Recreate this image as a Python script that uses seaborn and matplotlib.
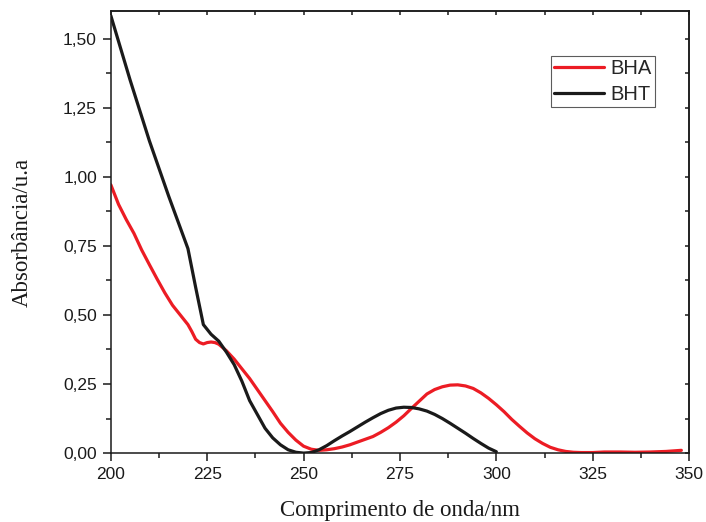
import matplotlib
matplotlib.use("Agg")
import matplotlib.pyplot as plt
import matplotlib.ticker as mticker
import numpy as np
import pandas as pd
import seaborn as sns

# UV absorption spectra of the two antioxidants
bht_nm = [200, 205, 210, 215, 220, 222, 224, 226, 228, 230, 232, 234, 236, 238,
          240, 242, 244, 246, 248, 250, 252, 254, 256, 258, 260, 262, 264, 266,
          268, 270, 272, 274, 276, 278, 280, 282, 284, 286, 288, 290, 292, 294,
          296, 298, 300]
bht_abs = [1.583, 1.35, 1.13, 0.93, 0.74, 0.60, 0.465, 0.43, 0.405, 0.365, 0.32,
           0.26, 0.19, 0.14, 0.09, 0.055, 0.03, 0.012, 0.003, 0.0, 0.002, 0.012,
           0.027, 0.045, 0.062, 0.078, 0.095, 0.112, 0.128, 0.143, 0.155, 0.163,
           0.166, 0.165, 0.16, 0.152, 0.14, 0.125, 0.108, 0.09, 0.072, 0.053,
           0.035, 0.018, 0.005]

bha_nm = [200, 202, 204, 206, 208, 210, 212, 214, 216, 218, 220, 221, 222, 223,
          224, 225, 226, 227, 228, 230, 232, 234, 236, 238, 240, 242, 244, 246,
          248, 250, 252, 254, 256, 258, 260, 262, 264, 266, 268, 270, 272, 274,
          276, 278, 280, 282, 284, 286, 288, 290, 292, 294, 296, 298, 300, 302,
          304, 306, 308, 310, 312, 314, 316, 318, 320, 322, 325, 328, 332, 336,
          340, 344, 348]
bha_abs = [0.971, 0.90, 0.845, 0.795, 0.735, 0.682, 0.63, 0.58, 0.535, 0.50,
           0.465, 0.44, 0.412, 0.40, 0.395, 0.40, 0.402, 0.40, 0.394, 0.37, 0.34,
           0.305, 0.27, 0.23, 0.19, 0.15, 0.108, 0.075, 0.047, 0.025, 0.014, 0.01,
           0.012, 0.016, 0.022, 0.03, 0.04, 0.05, 0.06, 0.075, 0.092, 0.112, 0.135,
           0.162, 0.188, 0.214, 0.23, 0.24, 0.246, 0.247, 0.243, 0.234, 0.218,
           0.198, 0.175, 0.15, 0.122, 0.097, 0.073, 0.052, 0.035, 0.021, 0.012,
           0.006, 0.003, 0.002, 0.002, 0.004, 0.004, 0.003, 0.004, 0.006, 0.01]

series_names = ["BHA", "BHT"]
series_colors = ["#ec1c24", "#1a1a1a"]

df = pd.concat([
    pd.DataFrame({"nm": bha_nm, "abs": bha_abs, "amostra": "BHA"}),
    pd.DataFrame({"nm": bht_nm, "abs": bht_abs, "amostra": "BHT"}),
], ignore_index=True)

sns.set_style("ticks")
plt.rcParams["font.family"] = ["Liberation Sans", "DejaVu Sans"]

fig = plt.figure(figsize=(7.06, 5.22), dpi=100)
ax = fig.add_axes([0.157, 0.132, 0.819, 0.847])

sns.lineplot(data=df, x="nm", y="abs", hue="amostra", hue_order=series_names,
             palette=series_colors, linewidth=2.3, sort=False, estimator=None,
             ax=ax)

ax.set_xlim(200, 350)
ax.set_ylim(0, 1.6)
ax.xaxis.set_major_locator(mticker.MultipleLocator(25))
ax.xaxis.set_minor_locator(mticker.MultipleLocator(12.5))
ax.yaxis.set_major_locator(mticker.MultipleLocator(0.25))
ax.yaxis.set_minor_locator(mticker.MultipleLocator(0.125))
ax.yaxis.set_major_formatter(
    mticker.FuncFormatter(lambda v, p: f"{v:.2f}".replace(".", ",")))

for s in ax.spines.values():
    s.set_visible(True)
    s.set_linewidth(1.1)
    s.set_color("#1a1a1a")

ax.tick_params(which="major", direction="out", length=6, width=1.1,
               labelsize=12.5, colors="#1a1a1a", pad=4)
ax.tick_params(which="minor", direction="out", length=3.5, width=1.1,
               colors="#1a1a1a")

# mirrored inward ticks on top and right
top = ax.secondary_xaxis("top")
top.xaxis.set_major_locator(mticker.MultipleLocator(25))
top.xaxis.set_minor_locator(mticker.MultipleLocator(12.5))
top.tick_params(which="both", direction="in", length=3, width=1.1,
                labeltop=False, colors="#1a1a1a")
right = ax.secondary_yaxis("right")
right.yaxis.set_major_locator(mticker.MultipleLocator(0.25))
right.yaxis.set_minor_locator(mticker.MultipleLocator(0.125))
right.tick_params(which="both", direction="in", length=3, width=1.1,
                  labelright=False, colors="#1a1a1a")
for sec in (top, right):
    for s in sec.spines.values():
        s.set_linewidth(1.1)
        s.set_color("#1a1a1a")

serif = ["Liberation Serif", "DejaVu Serif"]
ax.set_xlabel("Comprimento de onda/nm", family=serif, fontsize=16.5,
              color="#1a1a1a", labelpad=13)
ax.set_ylabel("Absorbância/u.a", family=serif, fontsize=16.5,
              color="#1a1a1a", labelpad=22)

leg = ax.legend(loc="upper left", bbox_to_anchor=(0.761, 0.898), fontsize=14.5,
                frameon=True, fancybox=False, handlelength=2.5,
                handletextpad=0.3, borderpad=0.15, labelspacing=0.33,
                borderaxespad=0)
leg.get_frame().set_edgecolor("#333333")
leg.get_frame().set_linewidth(0.8)
for line in leg.get_lines():
    line.set_linewidth(2.3)

fig.savefig("out.png", dpi=100)
